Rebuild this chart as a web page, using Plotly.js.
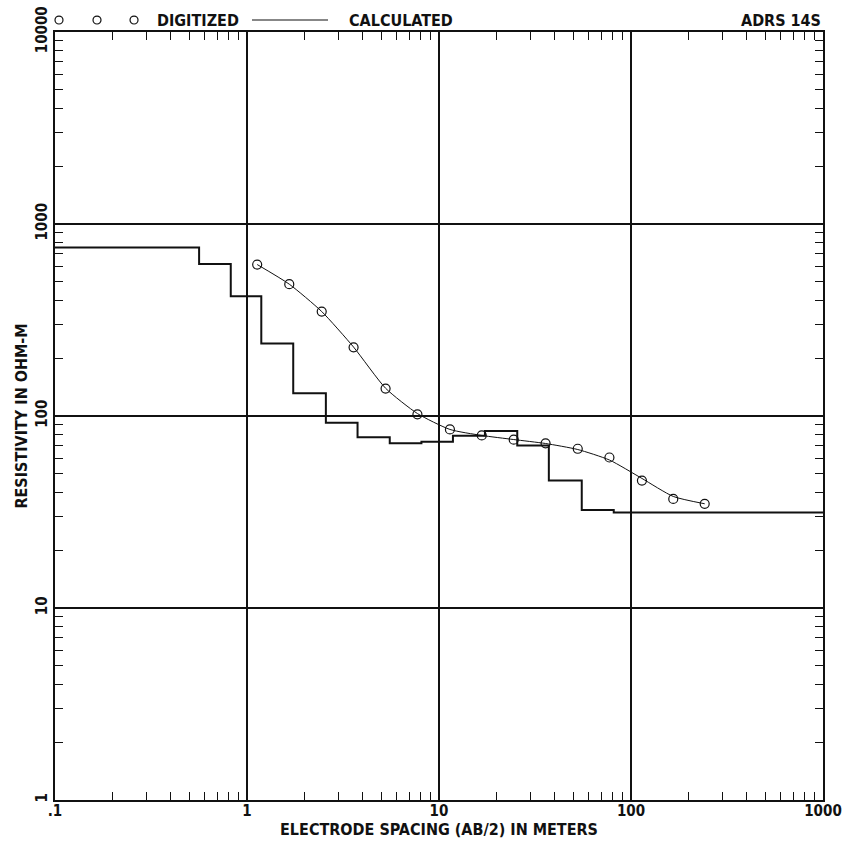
<!DOCTYPE html>
<html>
<head>
<meta charset="utf-8">
<script src="https://cdn.plot.ly/plotly-3.0.1.min.js"></script>
<style>html,body{margin:0;padding:0;background:#fff;}#chart{width:853px;height:844px;}</style>
</head>
<body>
<div id="chart"></div>
<script>
const digitizedSpacing = [1.13, 1.66, 2.45, 3.59, 5.27, 7.72, 11.4, 16.7, 24.5, 35.9, 52.8, 77.2, 114, 166, 242];
const digitizedRho     = [615, 486, 350, 228, 139, 102, 85.1, 79.2, 75.3, 72.1, 67.5, 60.8, 46.1, 37.0, 34.9];

// Calculated apparent resistivity curve
const calcSpacing = [1.13, 1.66, 2.45, 3.59, 5.27, 7.72, 11.4, 16.7, 24.5, 35.9, 52.8, 77.2, 114, 166, 242];
const calcRho     = [615, 486, 350, 228.5, 139.5, 103, 85.1, 79.2, 75.4, 71.9, 66.9, 59.0, 47.3, 38.1, 34.9];

// Layered model (step curve): layer boundaries and resistivities
const modelSpacing = [0.1, 0.563, 0.823, 1.187, 1.741, 2.575, 3.765, 5.54, 8.10, 11.82, 17.35, 25.56, 37.33, 55.4, 81.3, 1000];
const modelRho     = [754, 619, 421, 238.8, 131.2, 92.3, 77.5, 72.1, 73.5, 79.0, 83.6, 70.1, 46.1, 32.4, 31.4, 31.4];

// Axis tick labels
const xTickVals = [0.1, 1, 10, 100, 1000];
const xTickText = ['.1', '1', '10', '100', '1000'];
const yTickVals = [1, 10, 100, 1000, 10000];
const yTickText = ['1', '10', '100', '1000', '10000'];

const FONT = 'Liberation Sans Narrow, Arial Narrow, DejaVu Sans Condensed, sans-serif';

const traces = [
  {
    x: modelSpacing, y: modelRho, type: 'scatter', mode: 'lines',
    line: {shape: 'hv', color: '#111', width: 2}, showlegend: false, hoverinfo: 'skip'
  },
  {
    x: calcSpacing, y: calcRho, type: 'scatter', mode: 'lines',
    line: {shape: 'spline', smoothing: 0.6, color: '#111', width: 1}, showlegend: false
  },
  {
    x: digitizedSpacing, y: digitizedRho, type: 'scatter', mode: 'markers',
    marker: {symbol: 'circle-open', size: 9, color: '#111', line: {width: 1.2, color: '#111'}},
    showlegend: false
  }
];

const axisCommon = {
  type: 'log',
  showline: true, linecolor: '#111', linewidth: 2, mirror: 'allticks',
  showgrid: true, gridcolor: '#111', gridwidth: 1.5,
  zeroline: false,
  ticks: 'inside', ticklen: 0, tickcolor: '#111',
  tickmode: 'array',
  tickfont: {family: FONT, size: 15, color: '#111', weight: 'bold'},
  minor: {ticks: 'inside', ticklen: 8, tickcolor: '#111', tickwidth: 1.2, dtick: 'D1', showgrid: false}
};

const LEG_Y = 1.0156;
const R = 0.0052;

const layout = {
  width: 853, height: 844,
  margin: {l: 55, r: 30, t: 32, b: 44},
  paper_bgcolor: '#fff', plot_bgcolor: '#fff',
  showlegend: false,
  xaxis: Object.assign({}, axisCommon, {
    range: [-1, 3], tickvals: xTickVals, ticktext: xTickText,
    ticklabelstandoff: -4,
    title: {text: 'ELECTRODE SPACING (AB/2) IN METERS', standoff: 0,
            font: {family: FONT, size: 16, color: '#111', weight: 'bold'}}
  }),
  yaxis: Object.assign({}, axisCommon, {
    range: [0, 4], tickvals: yTickVals, ticktext: yTickText, tickangle: -90,
    title: {text: 'RESISTIVITY IN OHM-M', standoff: 1,
            font: {family: FONT, size: 16, color: '#111', weight: 'bold'}}
  }),
  shapes: [
    {type: 'circle', xref: 'paper', yref: 'paper', x0: 0.0052 - R, x1: 0.0052 + R, y0: LEG_Y - R, y1: LEG_Y + R, line: {color: '#111', width: 1.2}},
    {type: 'circle', xref: 'paper', yref: 'paper', x0: 0.0547 - R, x1: 0.0547 + R, y0: LEG_Y - R, y1: LEG_Y + R, line: {color: '#111', width: 1.2}},
    {type: 'circle', xref: 'paper', yref: 'paper', x0: 0.1029 - R, x1: 0.1029 + R, y0: LEG_Y - R, y1: LEG_Y + R, line: {color: '#111', width: 1.2}},
    {type: 'line', xref: 'paper', yref: 'paper', x0: 0.2565, x1: 0.3555, y0: LEG_Y, y1: LEG_Y, line: {color: '#111', width: 1.2}}
  ],
  annotations: [
    {xref: 'paper', yref: 'paper', x: 0.1305, y: LEG_Y, xanchor: 'left', yanchor: 'middle', showarrow: false,
     text: 'DIGITIZED', font: {family: FONT, size: 16, color: '#111', weight: 'bold'}},
    {xref: 'paper', yref: 'paper', x: 0.38, y: LEG_Y, xanchor: 'left', yanchor: 'middle', showarrow: false,
     text: 'CALCULATED', font: {family: FONT, size: 16, color: '#111', weight: 'bold'}},
    {xref: 'paper', yref: 'paper', x: 1.0, y: LEG_Y, xanchor: 'right', yanchor: 'middle', showarrow: false,
     text: 'ADRS 14S', font: {family: FONT, size: 16, color: '#111', weight: 'bold'}}
  ]
};

Plotly.newPlot('chart', traces, layout, {displayModeBar: false, staticPlot: true});
</script>
</body>
</html>
